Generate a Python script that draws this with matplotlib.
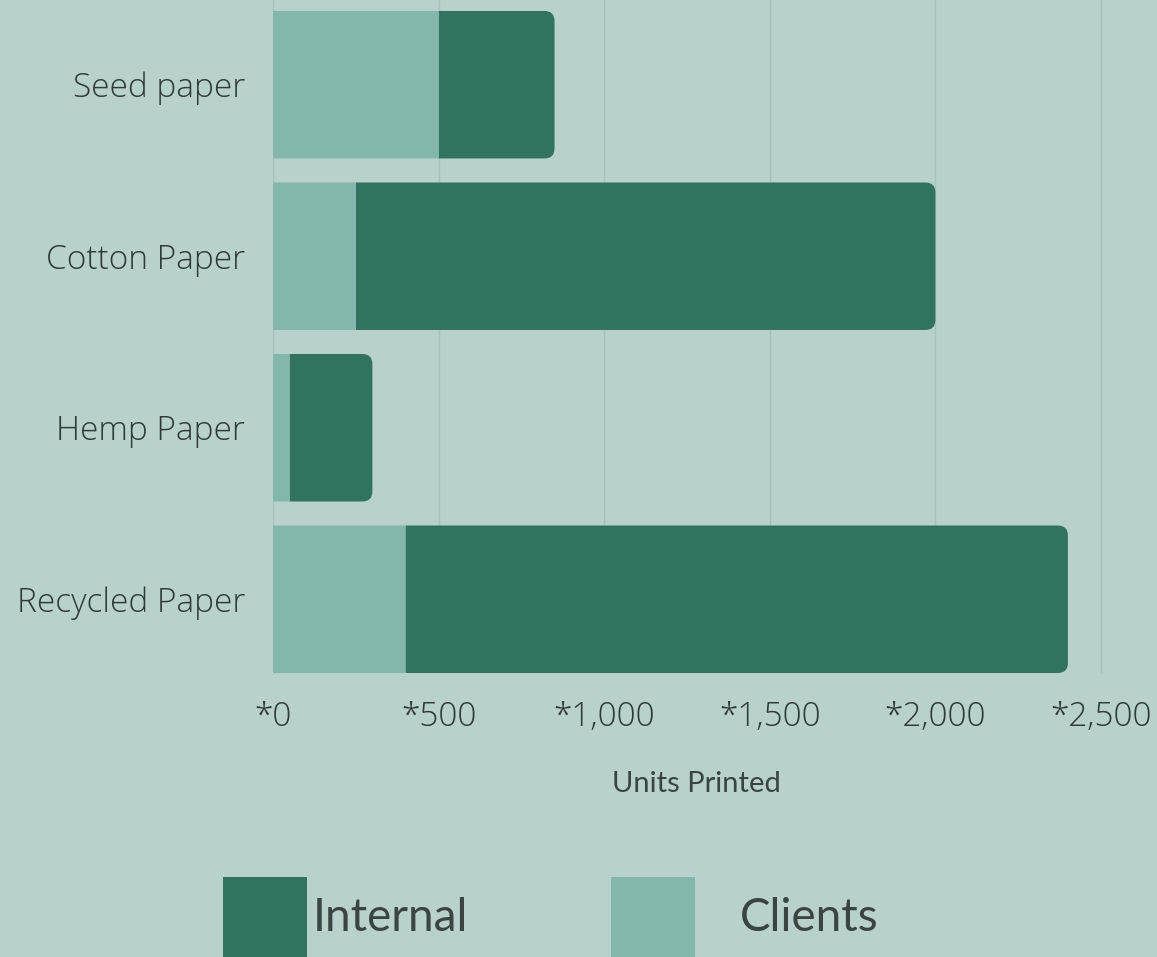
import matplotlib.pyplot as plt
from matplotlib.patches import FancyBboxPatch, Rectangle
from matplotlib.path import Path
from matplotlib.ticker import FuncFormatter

# data
categories = ["Seed paper", "Cotton Paper", "Hemp Paper", "Recycled Paper"]
clients = [500, 250, 50, 400]
internal = [350, 1750, 250, 2000]
ticks = [0, 500, 1000, 1500, 2000, 2500]
legend_labels = ["Internal", "Clients"]

BG = "#b8d1cd"
DARK = "#317360"
LIGHT = "#84b7ab"
TEXT = "#2f3a38"

fig = plt.figure(figsize=(11.57, 9.57), dpi=100, facecolor=BG)
ax = fig.add_axes([273 / 1157, 1 - 673 / 957, 1 - 273 / 1157, 673 / 957])
ax.set_facecolor(BG)

bar_h = 0.86
x_max = 2669
ax.set_xlim(0, x_max)
ax.set_ylim(3 + bar_h / 2, -0.494)

# px per unit, keeps the rounded corners circular
px_x = (1157 - 273) / x_max
px_y = 673 / (3 + bar_h / 2 + 0.494)
rad = 10 / px_x


def right_round(x0, y0, width, height, mutation_size):
    """box with only the right-hand corners rounded"""
    r = min(rad, width, height / 2)
    x1, y1 = x0 + width, y0 + height
    verts = [(x0, y0), (x1 - r, y0), (x1, y0), (x1, y0 + r),
             (x1, y1 - r), (x1, y1), (x1 - r, y1), (x0, y1), (x0, y0)]
    codes = [Path.MOVETO, Path.LINETO, Path.CURVE3, Path.CURVE3,
             Path.LINETO, Path.CURVE3, Path.CURVE3, Path.LINETO, Path.CLOSEPOLY]
    return Path(verts, codes)


ypos = list(range(len(categories)))

ax.barh(ypos, clients, height=bar_h, color=LIGHT, zorder=4, snap=False)
for i, (c, n) in enumerate(zip(clients, internal)):
    ax.add_patch(FancyBboxPatch(
        (c, i - bar_h / 2), n, bar_h, boxstyle=right_round,
        mutation_aspect=px_x / px_y, snap=False,
        facecolor=DARK, edgecolor="none", zorder=3))

ax.set_yticks(ypos)
ax.set_yticklabels(categories, fontsize=24, color=TEXT,
                   family=["Open Sans", "DejaVu Sans"], fontweight="light")
ax.set_xticks(ticks)
ax.xaxis.set_major_formatter(FuncFormatter(lambda v, p: "*" + format(int(v), ",")))
for lab in ax.get_xticklabels():
    lab.set_fontsize(24)
    lab.set_color(TEXT)
    lab.set_family(["Open Sans", "DejaVu Sans"])
    lab.set_fontweight("light")
ax.tick_params(axis="both", length=0)
ax.tick_params(axis="y", pad=20)
ax.tick_params(axis="x", pad=20)

ax.grid(axis="x", color="#a6c0bb", linewidth=1.0, zorder=0)
ax.grid(axis="y", visible=False)
for s in ax.spines.values():
    s.set_visible(False)

fig.text(696 / 1157, 1 - 784 / 957, "Units Printed", ha="center", va="center",
         fontsize=21, color="#3a4543", family=["Lato", "DejaVu Sans"])

# legend
for x0, tx, col, label in [(223, 313, DARK, legend_labels[0]),
                           (611, 740, LIGHT, legend_labels[1])]:
    fig.patches.append(Rectangle((x0 / 1157, 0), 84 / 1157, 80 / 957,
                                 transform=fig.transFigure, facecolor=col,
                                 edgecolor="none"))
    fig.text(tx / 1157, 1 - 918 / 957, label, ha="left", va="center",
             fontsize=33, color="#3a4543", family=["Lato", "DejaVu Sans"])

fig.savefig("out.png", dpi=100, facecolor=BG)
